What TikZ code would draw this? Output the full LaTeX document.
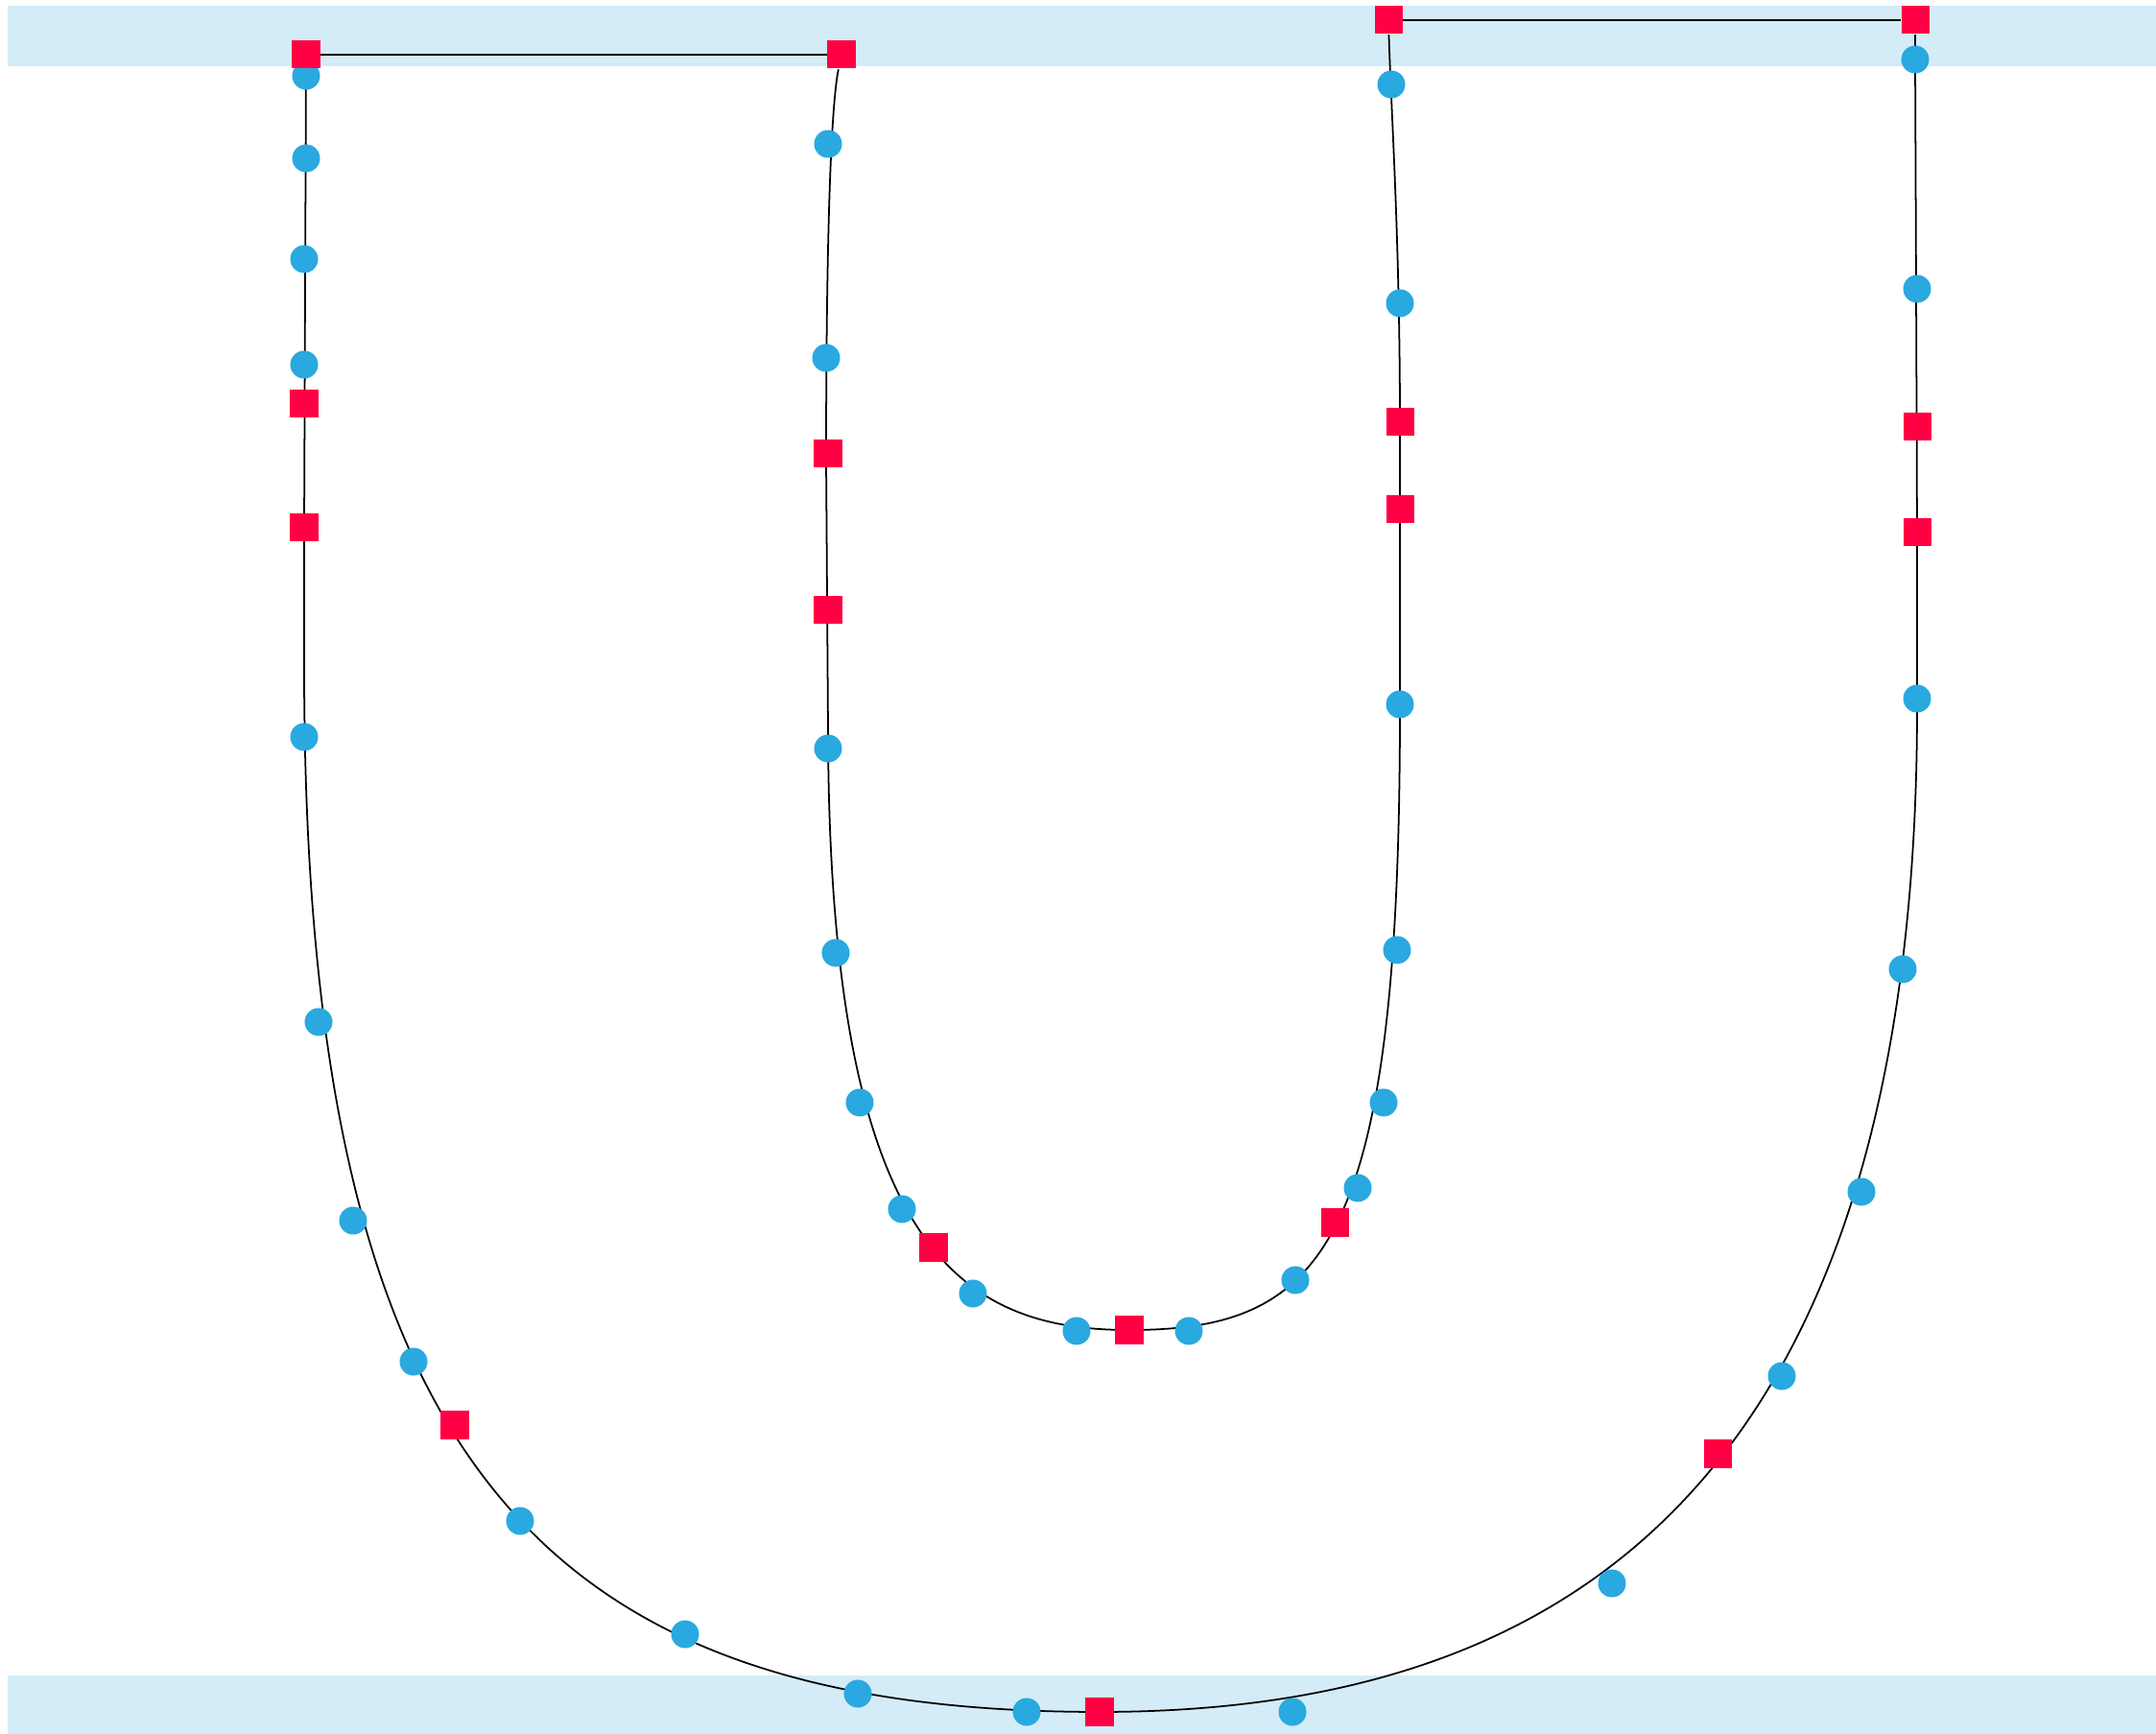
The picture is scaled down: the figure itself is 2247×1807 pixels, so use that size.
\documentclass[tikz,border=0pt]{standalone}
\usepackage{xcolor}
\usepackage{tikz}
\usetikzlibrary{backgrounds}

\definecolor{bandblue}{RGB}{212,236,247}
\definecolor{dotblue}{RGB}{41,169,224}
\definecolor{sqred}{RGB}{255,0,68}

\tikzset{
  dot/.style={circle, fill=dotblue, inner sep=0pt, minimum size=0.29cm},
  sqmark/.style={rectangle, fill=sqred, inner sep=0pt, minimum size=0.29cm},
  track/.style={black, line width=0.5pt}
}

\begin{document}
\begin{tikzpicture}[x=0.01cm, y=-0.01cm]

    \useasboundingbox (0,0) rectangle (2247,1807);

    % Circles along the outer track
    \foreach \x/\y [count=\i] in {319/79, 319/165, 317/270, 317/380, 317/768, 332/1065,
        368/1272, 431/1419, 542/1585, 714/1703, 894/1765, 1070/1784, 1347/1784,
        1680/1650, 1857/1434, 1940/1242, 1983/1010, 1998/728, 1998/301, 1996/62}
      \node[dot] (o\i) at (\x,\y) {};

    % Circles along the inner track
    \foreach \x/\y [count=\i] in {863/150, 861/373, 863/780, 871/993, 896/1149, 940/1260,
        1014/1348, 1122/1387, 1239/1387, 1350/1334, 1415/1238, 1442/1149, 1456/990,
        1459/734, 1459/316, 1450/88}
      \node[dot] (i\i) at (\x,\y) {};

    % End squares at the top
    \node[sqmark] (tl) at (319,57) {};
    \node[sqmark] (ta) at (877,57) {};
    \node[sqmark] (tb) at (1447,21) {};
    \node[sqmark] (tr) at (1996,21) {};

    % Squares along the tracks
    \foreach \x/\y [count=\i] in {317/421, 317/550, 474/1485, 1146/1784, 1790/1515,
        1998/555, 1998/445, 863/473, 863/636, 973/1300, 1177/1386, 1391/1274,
        1459/531, 1459/440}
      \node[sqmark] (s\i) at (\x,\y) {};

    \begin{scope}[on background layer]
      % Bands
      \fill[bandblue] (8,6) rectangle (2247,69);
      \fill[bandblue] (8,1746) rectangle (2247,1807);

      % Straight links at the top
      \draw[track] (tl) -- (ta);
      \draw[track] (tb) -- (tr);

      % Outer U
      \draw[track] (tl) -- (s2.center) -- (317,700)
        .. controls (318,1520) and (560,1784) .. (s4.center)
        .. controls (1600,1784) and (2000,1580) .. (1998,730)
        -- (s6.center) -- (1997,300) -- (o20.center) -- (tr);

      % Inner U
      \draw[track] (ta) .. controls (866,110) and (861,250) .. (861,480)
        -- (863,760)
        .. controls (864,1300) and (1000,1386) .. (s11.center)
        .. controls (1380,1386) and (1459,1300) .. (1459,740)
        -- (s14.center)
        .. controls (1459,250) and (1450,120) .. (tb);
    \end{scope}

\end{tikzpicture}
\end{document}
